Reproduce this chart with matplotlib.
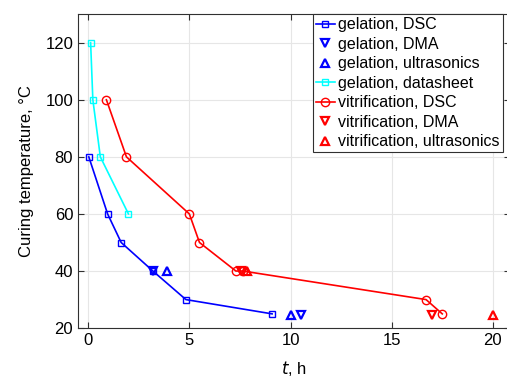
import matplotlib
matplotlib.use('Agg')
import matplotlib.pyplot as plt

plt.rcParams['font.family'] = ['Liberation Sans', 'DejaVu Sans']
plt.rcParams['font.size'] = 12

# gelation
gel_dsc_t = [0.03, 0.96, 1.63, 3.2, 4.83, 9.09]
gel_dsc_T = [80, 60, 50, 40, 30, 25]
gel_dma_t = [3.2, 10.5]
gel_dma_T = [40, 24.5]
gel_us_t = [3.9, 10.0]
gel_us_T = [40, 24.5]
gel_ds_t = [0.12, 0.23, 0.6, 1.99]
gel_ds_T = [120, 100, 80, 60]

# vitrification
vit_dsc_t = [0.9, 1.89, 5.0, 5.5, 7.3, 7.65, 16.7, 17.5]
vit_dsc_T = [100, 80, 60, 50, 40, 40, 30, 25]
vit_dma_t = [7.55, 17.0]
vit_dma_T = [40, 24.5]
vit_us_t = [7.85, 20.0]
vit_us_T = [40, 24.5]

fig = plt.figure(figsize=(5.07, 3.82), dpi=100)
ax = fig.add_axes([0.154, 0.141, 0.852, 0.822])

ax.plot(gel_dsc_t, gel_dsc_T, '-s', color='b', mfc='none', ms=4.5, lw=1.2, label='gelation, DSC')
ax.plot(gel_dma_t, gel_dma_T, 'v', color='b', mfc='none', ms=5.5, mew=1.6, label='gelation, DMA')
ax.plot(gel_us_t, gel_us_T, '^', color='b', mfc='none', ms=5.5, mew=1.6, label='gelation, ultrasonics')
ax.plot(gel_ds_t, gel_ds_T, '-s', color='cyan', mfc='none', ms=4.5, lw=1.2, label='gelation, datasheet')
ax.plot(vit_dsc_t, vit_dsc_T, '-o', color='r', mfc='none', ms=6, lw=1.2, label='vitrification, DSC')
ax.plot(vit_dma_t, vit_dma_T, 'v', color='r', mfc='none', ms=5.5, mew=1.6, label='vitrification, DMA')
ax.plot(vit_us_t, vit_us_T, '^', color='r', mfc='none', ms=5.5, mew=1.6, label='vitrification, ultrasonics')

ax.set_xlim(-0.5, 20.85)
ax.set_ylim(20, 130)
ax.set_xticks([0, 5, 10, 15, 20])
ax.set_yticks([20, 40, 60, 80, 100, 120])
ax.grid(True, color='#e6e6e6', lw=0.8)
ax.tick_params(direction='in', top=True, right=True, length=4, color='#303030')
for s in ax.spines.values():
    s.set_color('#303030')

ax.set_xlabel('$t$, h', labelpad=8)
ax.set_ylabel('Curing temperature, °C', labelpad=8)

leg = ax.legend(loc='upper right', bbox_to_anchor=(0.992, 0.963), bbox_transform=fig.transFigure,
                fontsize=11.5, handlelength=1.2, handletextpad=0.2,
                borderpad=0.2, labelspacing=0.28, fancybox=False, framealpha=1,
                borderaxespad=0)
leg.get_frame().set_edgecolor('#303030')
leg.get_frame().set_linewidth(0.8)

fig.savefig('out.png')
